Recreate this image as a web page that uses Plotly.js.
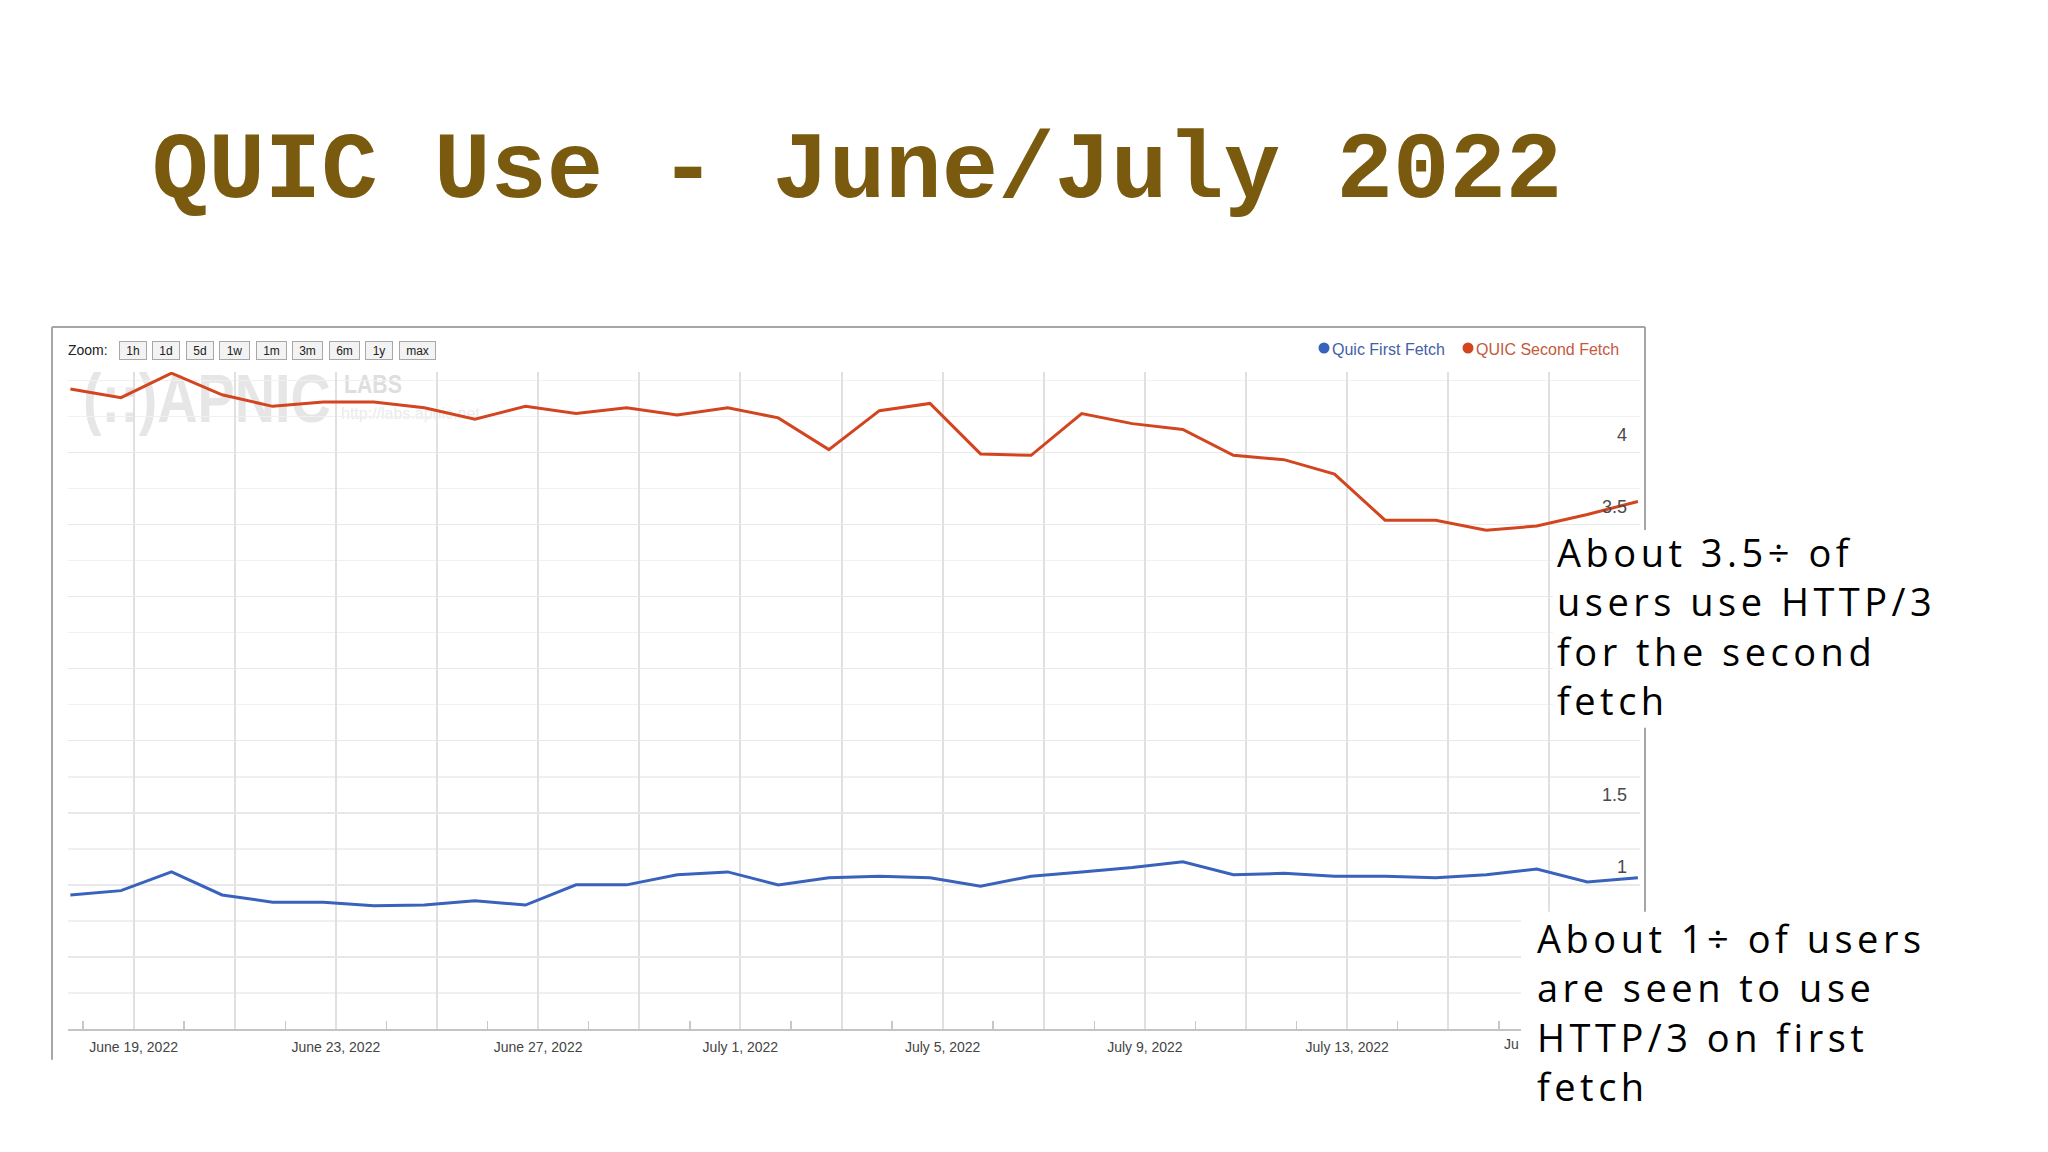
<!DOCTYPE html>
<html>
<head>
<meta charset="utf-8">
<script src="https://cdn.plot.ly/plotly-3.0.1.min.js"></script>
<style>
html,body{margin:0;padding:0;background:#ffffff;}
#wrap{position:relative;width:2048px;height:1152px;overflow:hidden;background:#ffffff;}
#wm{position:absolute;left:0;top:0;width:2048px;height:1152px;z-index:0;}
#chart{position:absolute;left:0;top:0;width:2048px;height:1152px;z-index:1;}
.wm{position:absolute;white-space:nowrap;font-family:'Liberation Sans',Arial,sans-serif;transform-origin:0 0;}
</style>
</head>
<body>
<div id="wrap">
  <div id="wm">
    <div class="wm" style="left:83px;top:364px;font-size:68px;line-height:68px;font-weight:bold;color:#e6e6e6;transform:scaleX(0.82);">(::)APNIC</div>
    <div class="wm" style="left:344px;top:372px;font-size:25px;line-height:25px;font-weight:bold;color:#dedede;transform:scaleX(0.85);">LABS</div>
    <div class="wm" style="left:341px;top:406px;font-size:16px;line-height:16px;color:#ebebeb;">http://labs.apnic.net</div>
  </div>
  <div id="chart"></div>
</div>
<script>
// ---------------- DATA ----------------
const dates = [
  "2022-06-17 18:00","2022-06-18 18:00","2022-06-19 18:00","2022-06-20 18:00",
  "2022-06-21 18:00","2022-06-22 18:00","2022-06-23 18:00","2022-06-24 18:00",
  "2022-06-25 18:00","2022-06-26 18:00","2022-06-27 18:00","2022-06-28 18:00",
  "2022-06-29 18:00","2022-06-30 18:00","2022-07-01 18:00","2022-07-02 18:00",
  "2022-07-03 18:00","2022-07-04 18:00","2022-07-05 18:00","2022-07-06 18:00",
  "2022-07-07 18:00","2022-07-08 18:00","2022-07-09 18:00","2022-07-10 18:00",
  "2022-07-11 18:00","2022-07-12 18:00","2022-07-13 18:00","2022-07-14 18:00",
  "2022-07-15 18:00","2022-07-16 18:00","2022-07-17 18:00","2022-07-18 18:00"
];
const quicFirstFetch = [
  0.93,0.96,1.09,0.93,0.88,0.88,0.855,0.86,
  0.89,0.86,1.00,1.00,1.07,1.09,1.00,1.05,
  1.06,1.05,0.99,1.06,1.09,1.12,1.16,1.07,
  1.08,1.06,1.06,1.05,1.07,1.11,1.02,1.05
];
const quicSecondFetch = [
  4.44,4.38,4.55,4.40,4.32,4.35,4.35,4.31,
  4.23,4.32,4.27,4.31,4.26,4.31,4.24,4.02,
  4.29,4.34,3.99,3.98,4.27,4.20,4.16,3.98,
  3.95,3.85,3.53,3.53,3.46,3.49,3.57,3.66
];
const seriesNames = ["Quic First Fetch", "QUIC Second Fetch"];
const xGridDates = [
  "2022-06-19","2022-06-21","2022-06-23","2022-06-25","2022-06-27","2022-06-29",
  "2022-07-01","2022-07-03","2022-07-05","2022-07-07","2022-07-09","2022-07-11",
  "2022-07-13","2022-07-15","2022-07-17"
];
// the last label ("July 17, 2022") is hidden behind the note except for "Ju"
const xTickLabels = [
  "June 19, 2022","","June 23, 2022","","June 27, 2022","",
  "July 1, 2022","","July 5, 2022","","July 9, 2022","",
  "July 13, 2022","",""
];
const clippedLastLabel = "Ju";
const xTickMarkDates = [
  "2022-06-18","2022-06-20","2022-06-22","2022-06-24","2022-06-26","2022-06-28","2022-06-30",
  "2022-07-02","2022-07-04","2022-07-06","2022-07-08","2022-07-10","2022-07-12","2022-07-14",
  "2022-07-16","2022-07-18"
];
// labels 0, 0.5, 2, 2.5, 3 are hidden behind the notes in the reference
const yTickVals = [0, 0.5, 1, 1.5, 2, 2.5, 3, 3.5, 4];
const yTickText = ["", "", "1", "1.5", "", "", "", "3.5", "4"];
const yMinorVals = [0.25, 0.75, 1.25, 1.75, 2.25, 2.75, 3.25, 3.75, 4.25, 4.5];
const zoomButtons = ["1h","1d","5d","1w","1m","3m","6m","1y","max"];
const titleText = "QUIC Use - June/July 2022";
const noteSecond = ["About 3.5÷ of", "users use HTTP/3", "for the second", "fetch"];
const noteFirst = ["About 1÷ of users", "are seen to use", "HTTP/3 on first", "fetch"];

// ---------------- LAYOUT HELPERS ----------------
const W = 2048, H = 1152;
const L = 68, R = 1640, T = 372, B = 1029.3;
const px = x => (x - L) / (R - L);
const py = y => (B - y) / (B - T);

const RED = "#d2451f", BLUE = "#3862bb";

const traces = [
  {x: dates, y: quicFirstFetch, name: seriesNames[0], type: "scatter", mode: "lines",
   line: {color: BLUE, width: 3}, hoverinfo: "skip"},
  {x: dates, y: quicSecondFetch, name: seriesNames[1], type: "scatter", mode: "lines",
   line: {color: RED, width: 3}, hoverinfo: "skip"}
];

const sans = "Liberation Sans, Arial, sans-serif";
const annotations = [];
// Zoom label + buttons
annotations.push({xref: "paper", yref: "paper", x: px(66), y: py(350), xanchor: "left", yanchor: "middle",
  text: "Zoom:", showarrow: false, font: {family: sans, size: 14, color: "#222"}});
let bx = 118.6;
zoomButtons.forEach(lbl => {
  const w = lbl.length === 3 ? 37 : (/[wm]/.test(lbl) ? 31 : 28);
  annotations.push({xref: "paper", yref: "paper", x: px(bx + w / 2), y: py(350), xanchor: "center", yanchor: "middle",
    text: lbl, showarrow: false, width: w - 4, height: 15, borderpad: 1, borderwidth: 1,
    bordercolor: "#a8a8a8", bgcolor: "#f3f3f3",
    font: {family: sans, size: 12, color: "#222"}});
  bx += w + 5.5;
});
// Legend texts (dots drawn as shapes below)
annotations.push({xref: "paper", yref: "paper", x: px(1330), y: py(349), xanchor: "left", yanchor: "middle",
  text: seriesNames[0], showarrow: false, font: {family: sans, size: 16, color: "#4262a6"}});
annotations.push({xref: "paper", yref: "paper", x: px(1474), y: py(349), xanchor: "left", yanchor: "middle",
  text: seriesNames[1], showarrow: false, font: {family: sans, size: 16, color: "#c35a3c"}});
// clipped last x label
annotations.push({xref: "paper", yref: "paper", x: px(1503), y: py(1044), xanchor: "left", yanchor: "middle",
  text: clippedLastLabel, showarrow: false, borderpad: 0, font: {family: sans, size: 14, color: "#444"}});
// Handwritten notes (one text block each)
const noteFont = {family: "Open Sans, Lato, sans-serif", size: 38, color: "#000"};
const noteHtml = lines => lines.map(l => '<span style="letter-spacing:4.5px">' + l + '</span>').join("<br>");
annotations.push({xref: "paper", yref: "paper", x: px(1556), y: py(626), xanchor: "left", yanchor: "middle",
  align: "left", text: noteHtml(noteSecond), showarrow: false, borderpad: 0, font: noteFont});
annotations.push({xref: "paper", yref: "paper", x: px(1536), y: py(1012), xanchor: "left", yanchor: "middle",
  align: "left", text: noteHtml(noteFirst), showarrow: false, borderpad: 0, font: noteFont});

const frameColor = "#a6a6a6";
const dot = (cx, cy, r, color) => ({type: "circle", xref: "paper", yref: "paper",
  x0: px(cx - r), x1: px(cx + r), y0: py(cy + r), y1: py(cy - r), fillcolor: color, line: {width: 0}, layer: "above"});
const shapes = [
  {type: "line", xref: "paper", yref: "paper", x0: px(52), x1: px(52), y0: py(327), y1: py(1060), line: {color: frameColor, width: 2}, layer: "above"},
  {type: "line", xref: "paper", yref: "paper", x0: px(52), x1: px(1645), y0: py(327), y1: py(327), line: {color: frameColor, width: 2}, layer: "above"},
  {type: "line", xref: "paper", yref: "paper", x0: px(1645), x1: px(1645), y0: py(327), y1: py(1060), line: {color: frameColor, width: 2}, layer: "above"},
  {type: "rect", xref: "paper", yref: "paper", x0: px(1553), x1: px(1720), y0: py(728), y1: py(530), fillcolor: "#ffffff", line: {width: 0}, layer: "above"},
  {type: "rect", xref: "paper", yref: "paper", x0: px(1521), x1: px(1720), y0: py(1152), y1: py(912), fillcolor: "#ffffff", line: {width: 0}, layer: "above"},
  dot(1324, 348, 5.5, BLUE),
  dot(1468, 348, 5.5, RED)
];

const layout = {
  width: W, height: H, autosize: false,
  margin: {l: L, r: W - R, t: T, b: H - B, pad: 0},
  paper_bgcolor: "rgba(0,0,0,0)", plot_bgcolor: "rgba(0,0,0,0)",
  showlegend: false,
  title: {text: titleText, xref: "container", yref: "container", x: 152 / W, xanchor: "left",
    y: 1 - 164 / H, yanchor: "middle",
    font: {family: "Liberation Mono, DejaVu Sans Mono, monospace", size: 94, color: "#7a5a0e", weight: 700}},
  xaxis: {
    type: "date", range: ["2022-06-17 16:52", "2022-07-18 19:00"],
    tickmode: "array", tickvals: xGridDates, ticktext: xTickLabels,
    ticks: "", showgrid: true, gridcolor: "#e0e0e0", gridwidth: 2,
    showline: true, linecolor: "#c4c4c4", linewidth: 2, zeroline: false,
    tickfont: {family: sans, size: 14, color: "#444"},
    ticklabelstandoff: 4,
    minor: {tickmode: "array", tickvals: xTickMarkDates, ticks: "inside", ticklen: 8, tickwidth: 1.5, tickcolor: "#c8c8c8", showgrid: false},
    fixedrange: true
  },
  yaxis: {
    range: [0, (B - T) / 144.2], side: "right",
    tickmode: "array", tickvals: yTickVals, ticktext: yTickText,
    ticks: "", ticklabelposition: "inside", ticklabelstandoff: 10, ticklabelshift: -18,
    showgrid: true, gridcolor: "#e8e8e8", gridwidth: 1.5, zeroline: false, showline: false,
    tickfont: {family: sans, size: 18, color: "#4a4a4a"},
    minor: {tickmode: "array", tickvals: yMinorVals, ticks: "", showgrid: true, gridcolor: "#f0f0f0", gridwidth: 1.5},
    fixedrange: true
  },
  annotations: annotations,
  shapes: shapes
};

Plotly.newPlot("chart", traces, layout, {displayModeBar: false, staticPlot: true});
</script>
</body>
</html>
